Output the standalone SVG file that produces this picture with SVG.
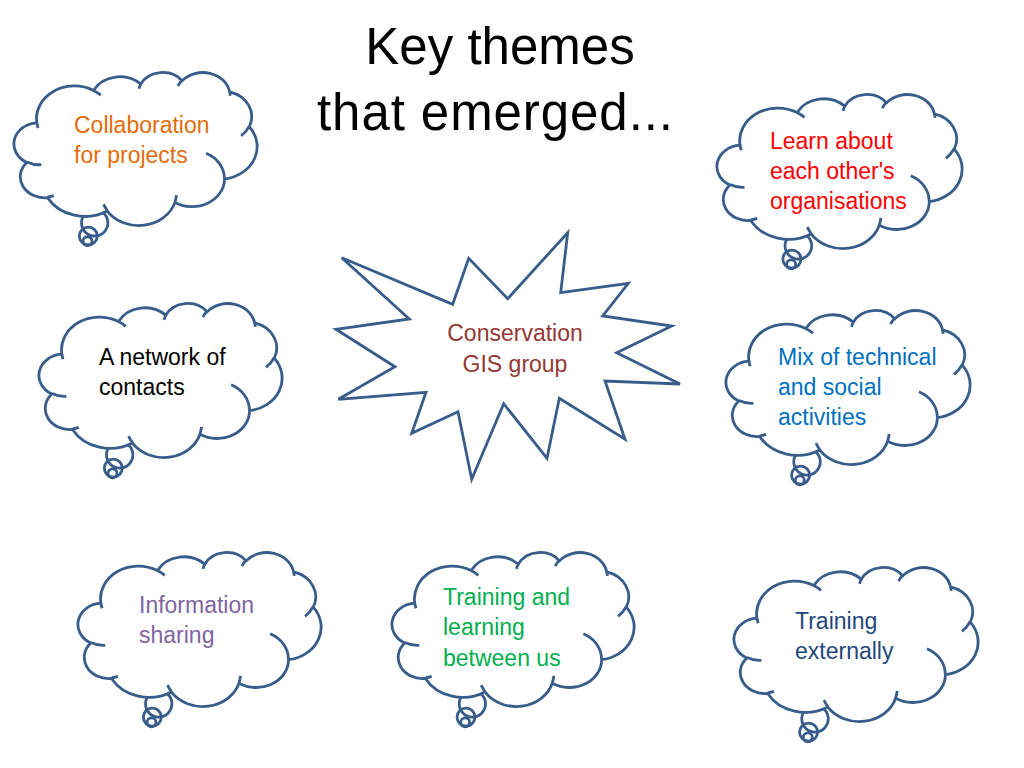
<svg xmlns="http://www.w3.org/2000/svg" xmlns:xlink="http://www.w3.org/1999/xlink" width="1024" height="768" viewBox="0 0 1024 768">
<style>
.ln{fill:none;stroke:#385D8A;stroke-width:2.8;vector-effect:non-scaling-stroke}
.cl{fill:#FFFFFF;stroke:#385D8A;stroke-width:2.8;vector-effect:non-scaling-stroke;stroke-linejoin:round}
.t{font-family:"Liberation Sans",Arial,sans-serif;font-size:23px}
.title{font-family:"Liberation Sans",Arial,sans-serif;font-size:51px;fill:#000000;text-anchor:middle}
</style>
<defs>
<g id="cloud">
<ellipse class="ln" cx="32.93" cy="98.6" rx="5.45" ry="8.6"/>
<ellipse class="ln" cx="30.29" cy="107.2" rx="3.72" ry="5.84"/>
<ellipse class="ln" cx="29.96" cy="110.6" rx="1.86" ry="2.92"/>
<path class="cl" d="M 9.03 33.26 A 15.63 21.27 0 0 1 32.42 12.04 A 12.34 16.82 0 0 1 51.98 7.95 A 10.10 13.76 0 0 1 69.06 5.75 A 11.24 15.27 0 0 1 88.70 12.92 A 12.34 16.84 0 0 1 96.81 35.80 A 15.68 21.34 0 0 1 86.59 69.93 A 13.39 18.21 0 0 1 66.10 85.23 A 15.63 21.33 0 0 1 38.15 90.89 A 17.87 24.41 0 0 1 13.44 82.11 A 10.09 13.70 0 0 1 4.89 59.15 A 10.06 13.76 0 0 1 9.03 33.26 Z"/>
<path class="ln" d="M 10.86 60.59 A 10.06 13.76 0 0 1 5.00 58.75 M 16.04 80.78 A 10.09 13.70 0 0 1 13.47 81.67 M 38.14 90.49 A 15.63 21.33 0 0 1 36.60 86.47 M 66.73 80.44 A 15.63 21.33 0 0 1 66.11 84.86 M 79.00 53.13 A 13.39 18.21 0 0 1 86.53 69.65 M 96.75 35.54 A 12.34 16.84 0 0 1 93.40 41.73 M 88.71 12.56 A 11.24 15.27 0 0 1 88.89 15.49 M 67.31 9.15 A 11.24 15.27 0 0 1 69.03 5.41 M 51.25 10.93 A 10.10 13.76 0 0 1 52.08 7.71 M 32.41 12.02 A 15.63 21.27 0 0 1 35.42 15.15 M 9.55 36.55 A 15.63 21.27 0 0 1 9.03 33.26"/>
</g>
</defs>
<rect x="0" y="0" width="1024" height="768" fill="#FFFFFF"/>
<g id="title">
<text class="title" x="500" y="64">Key themes</text>
<text class="title" x="495" y="130" textLength="356" lengthAdjust="spacing">that emerged...</text>
</g>
<g id="connectors"></g>
<g id="center-starburst">
<polygon points="341.7,257.7 452.7,304.3 468.7,258.3 507.7,298.7 567.7,232.7 560.7,292.7 628.3,283.3 602.7,316 671.7,326 616.7,352.7 680,384 605,381 625,439.3 559.3,398.3 547,458.3 503.7,403.7 471.7,479.3 458,411.7 411.7,433.3 426,392.3 338.3,399.3 395,366.7 336,329.3 409.3,319" fill="#FFFFFF" stroke="#385D8A" stroke-width="2.8" stroke-linejoin="miter"/>
<text class="t" fill="#953735" text-anchor="middle"><tspan x="515" y="341">Conservation</tspan><tspan x="515" y="372">GIS group</tspan></text>
</g>
<g id="cloud-collaboration">
<use xlink:href="#cloud" href="#cloud" transform="translate(15,72) scale(2.42,1.53)"/>
<text class="t" fill="#E46C0A"><tspan x="74" y="133">Collaboration</tspan><tspan x="74" y="163">for projects</tspan></text>
</g>
<g id="cloud-learn">
<use xlink:href="#cloud" href="#cloud" transform="translate(718,94) scale(2.44,1.54)"/>
<text class="t" fill="#FF0000"><tspan x="770" y="149">Learn about</tspan><tspan x="770" y="179">each other's</tspan><tspan x="770" y="209">organisations</tspan></text>
</g>
<g id="cloud-network">
<use xlink:href="#cloud" href="#cloud" transform="translate(40,303) scale(2.42,1.54)"/>
<text class="t" fill="#000000"><tspan x="99" y="365">A network of</tspan><tspan x="99" y="395">contacts</tspan></text>
</g>
<g id="cloud-mix">
<use xlink:href="#cloud" href="#cloud" transform="translate(727,310) scale(2.43,1.54)"/>
<text class="t" fill="#0070C0"><tspan x="778" y="365">Mix of technical</tspan><tspan x="778" y="395">and social</tspan><tspan x="778" y="425">activities</tspan></text>
</g>
<g id="cloud-information">
<use xlink:href="#cloud" href="#cloud" transform="translate(79,552) scale(2.42,1.54)"/>
<text class="t" fill="#8064A2"><tspan x="139" y="613">Information</tspan><tspan x="139" y="643">sharing</tspan></text>
</g>
<g id="cloud-training-between">
<use xlink:href="#cloud" href="#cloud" transform="translate(393,552) scale(2.41,1.54)"/>
<text class="t" fill="#00B050"><tspan x="443" y="605">Training and</tspan><tspan x="443" y="635">learning</tspan><tspan x="443" y="666">between us</tspan></text>
</g>
<g id="cloud-training-external">
<use xlink:href="#cloud" href="#cloud" transform="translate(735,567) scale(2.43,1.54)"/>
<text class="t" fill="#1F497D"><tspan x="795" y="629">Training</tspan><tspan x="795" y="659">externally</tspan></text>
</g>
</svg>
